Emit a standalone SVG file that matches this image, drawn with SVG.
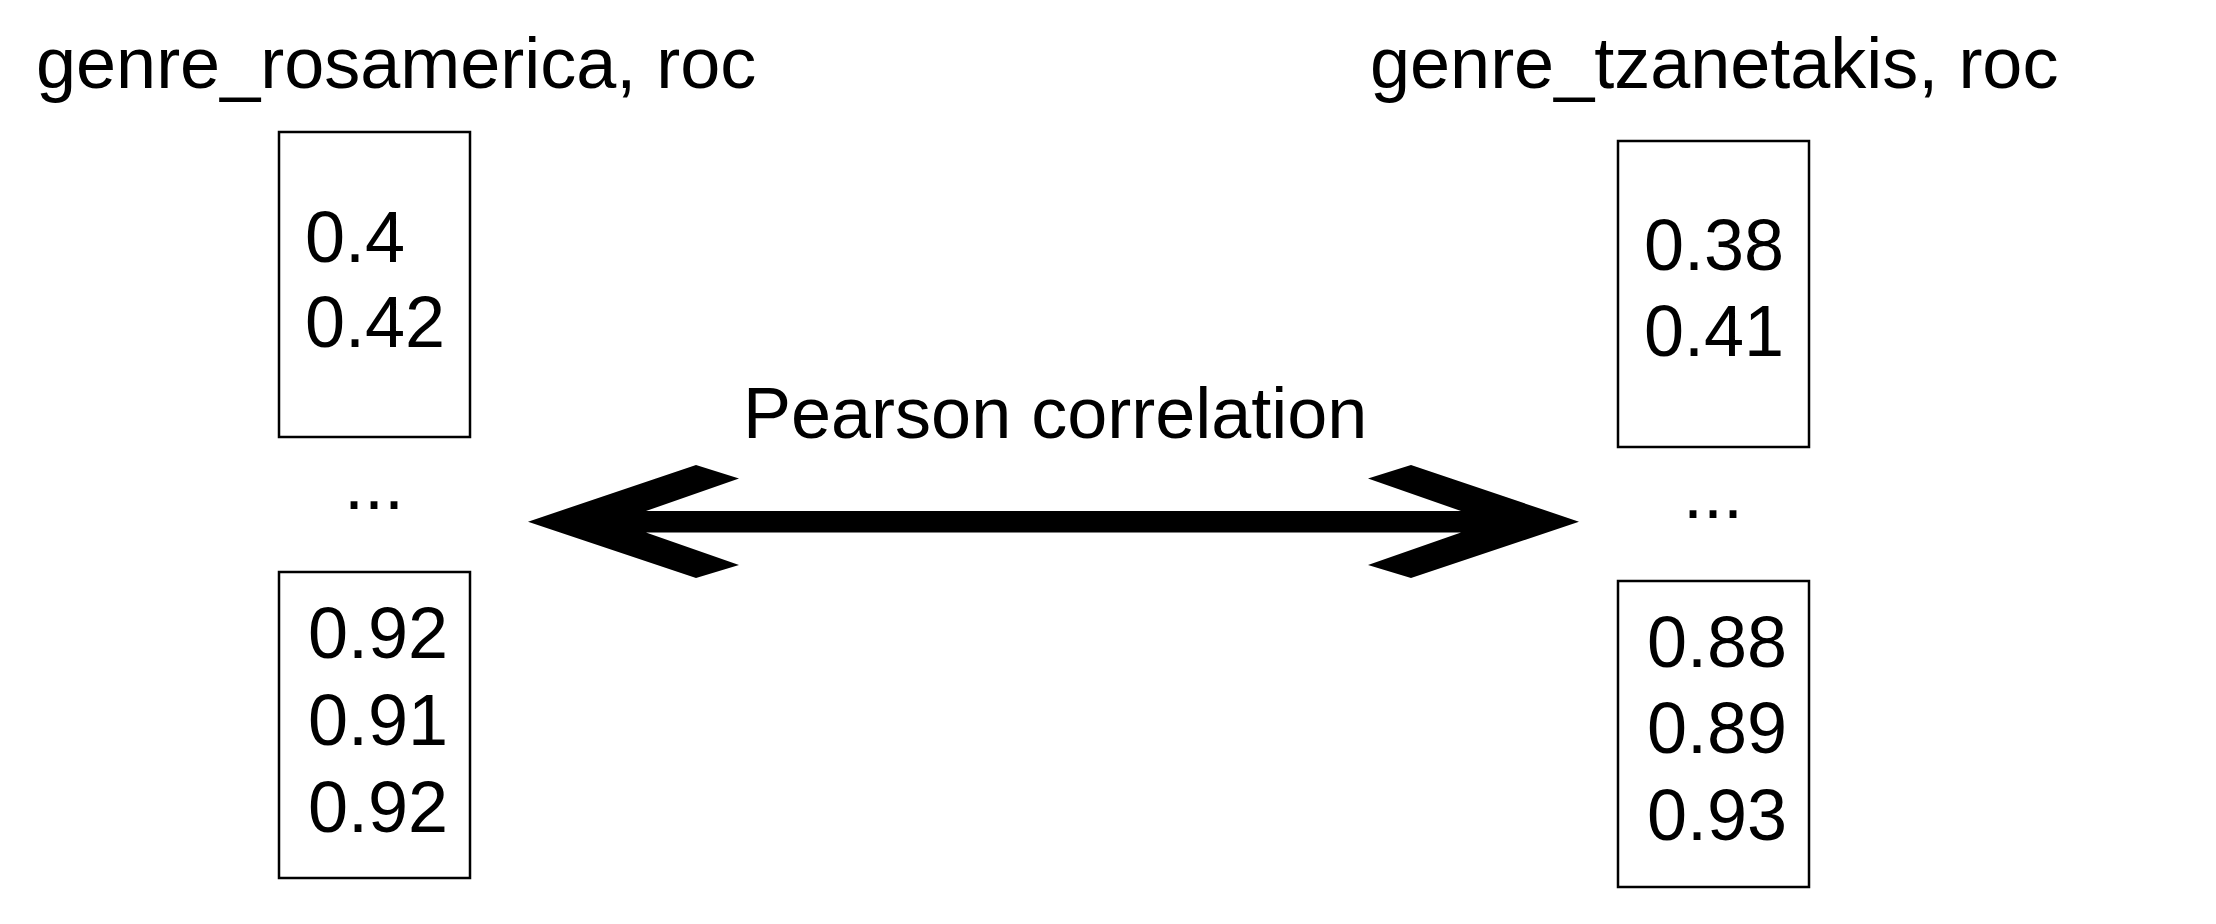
<svg xmlns="http://www.w3.org/2000/svg" width="2216" height="924" viewBox="0 0 2216 924">
<style>
text{font-family:"Liberation Sans",Arial,sans-serif;font-size:72px;fill:#000}
.box{fill:#fff;stroke:#000;stroke-width:2.5}
</style>
<rect width="2216" height="924" fill="#fff"/>
<g id="title-left"><text x="36" y="88">genre_rosamerica, roc</text></g>
<g id="title-right"><text x="1370" y="88">genre_tzanetakis, roc</text></g>
<g id="box-left-top">
<rect class="box" x="279" y="132" width="191" height="305"/>
<text x="305" y="262">0.4</text>
<text x="305" y="347">0.42</text>
</g>
<g id="dots-left"><text x="344" y="509">...</text></g>
<g id="box-left-bottom">
<rect class="box" x="279" y="572" width="191" height="306"/>
<text x="308" y="658">0.92</text>
<text x="308" y="745">0.91</text>
<text x="308" y="832">0.92</text>
</g>
<g id="box-right-top">
<rect class="box" x="1618" y="141" width="191" height="306"/>
<text x="1644" y="270">0.38</text>
<text x="1644" y="356">0.41</text>
</g>
<g id="dots-right"><text x="1683" y="518">...</text></g>
<g id="box-right-bottom">
<rect class="box" x="1618" y="581" width="191" height="306"/>
<text x="1647" y="667">0.88</text>
<text x="1647" y="753">0.89</text>
<text x="1647" y="840">0.93</text>
</g>
<g id="label-pearson"><text x="743" y="438">Pearson correlation</text></g>
<g id="connectors">
<path d="M528,521.7 L696,465 L739,478.5 L646,511 L1461,511 L1368,478.5 L1411,465 L1579,521.7 L1411,578 L1368,565 L1461,532.5 L646,532.5 L739,565 L696,578 Z" fill="#000"/>
</g>
</svg>
